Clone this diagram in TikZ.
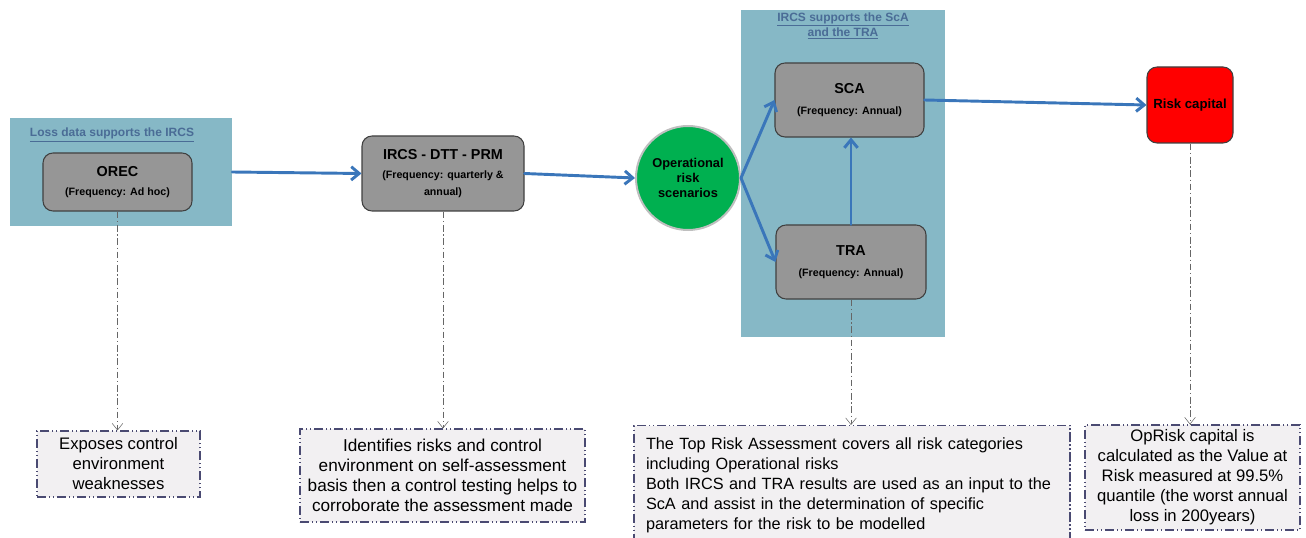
\documentclass[tikz,border=0pt]{standalone}
\usepackage{fontspec}
\setmainfont{Liberation Sans}
\usetikzlibrary{arrows.meta}

\definecolor{panelblue}{HTML}{86B8C6}
\definecolor{boxgray}{HTML}{969696}
\definecolor{arrowblue}{HTML}{3A76BA}
\definecolor{titleblue}{HTML}{4A6C96}
\definecolor{notefill}{HTML}{F2F0F2}
\definecolor{noteline}{HTML}{4A4A72}
\definecolor{orsgreen}{HTML}{00B050}
\newcommand{\freqfont}{\fontsize{8}{9.5}\selectfont}
\newcommand{\boxhead}{\fontsize{10.8}{14}\selectfont}

\begin{document}
\begin{tikzpicture}[x=0.75pt, y=-0.75pt,
	panel/.style={fill=panelblue, draw=none, inner sep=0pt},
	ptitle/.style={text=titleblue, font=\bfseries\fontsize{9}{10}\selectfont, align=center},
	stepbox/.style={draw=black!75, thick, fill=boxgray, rounded corners=7.5pt, align=center, font=\bfseries, inner sep=2pt},
	note/.style={draw=noteline, fill=notefill, thick, dash pattern=on 7pt off 2pt on 1pt off 2pt on 1pt off 2pt, font=\fontsize{12.5}{15}\selectfont, inner sep=1pt},
	flow/.style={draw=arrowblue, line width=2.2pt, line cap=round, -{Straight Barb[length=6pt, width=10pt]}},
	link/.style={draw=black!60, thin, dash pattern=on 5pt off 2pt on 1pt off 2pt, -{Straight Barb[length=5pt, width=8pt]}}]

	\useasboundingbox (0,0) rectangle (1306,538);

	\node[panel, minimum width=166.5pt, minimum height=81pt] (lpanel) at (121,172) {};
	\node[panel, minimum width=153pt, minimum height=245.25pt] (rpanel) at (843,173.5) {};
	\node[ptitle] (ltitle) at (112,135) {\underline{Loss data supports the IRCS}};
	\node[ptitle] (rtitle) at (843,26) {\underline{IRCS supports the ScA}\\\underline{and the TRA}};

	\node[stepbox, minimum width=111.75pt, minimum height=43.5pt] (orec) at (117.5,182)
		{\boxhead OREC\\[2pt]{\freqfont(Frequency: Ad hoc)}};
	\node[stepbox, minimum width=121.5pt, minimum height=56.25pt] (ircs) at (443,173.5)
		{\boxhead IRCS - DTT - PRM\\[2pt]{\freqfont(Frequency: quarterly \&}\\[1pt]{\freqfont annual)}};
	\node[circle, draw=black!25, line width=1.5pt, fill=orsgreen, minimum size=78pt, align=center,
		font=\bfseries\fontsize{9.6}{11.5}\selectfont] (ors) at (688,178) {Operational\\risk\\scenarios};
	\node[stepbox, minimum width=111.75pt, minimum height=55.5pt] (sca) at (849.5,100)
		{\boxhead SCA\\[4pt]{\freqfont(Frequency: Annual)}};
	\node[stepbox, minimum width=112.5pt, minimum height=55.5pt] (tra) at (851,262)
		{\boxhead TRA\\[4pt]{\freqfont(Frequency: Annual)}};
	\node[stepbox, fill=red, minimum width=64.5pt, minimum height=57pt, inner sep=0pt] (risk) at (1190,105)
		{\fontsize{9.9}{12}\selectfont\color{black}Risk capital};

	\node[note, minimum width=122.25pt, minimum height=49.5pt, align=center] (note1) at (118.5,464)
		{Exposes control\\environment\\weaknesses};
	\node[note, minimum width=213.75pt, minimum height=69.75pt, align=center, font=\fontsize{12.9}{15}\selectfont] (note2) at (442.5,475.5)
		{Identifies risks and control\\environment on self-assessment\\basis then a control testing helps to\\corroborate the assessment made};
	\node[note, minimum width=327pt, minimum height=90pt, text width=309pt, inner xsep=9pt, align=left, anchor=north, font=\fontsize{12.2}{15}\selectfont] (note3) at (852,425)
		{The Top Risk Assessment covers all risk categories\\including Operational risks\\Both IRCS and TRA results are used as an input to the\\ScA and assist in the determination of specific\\parameters for the risk to be modelled};
	\node[note, minimum width=161.25pt, minimum height=78.75pt, align=center] (note4) at (1192.5,477.5)
		{OpRisk capital is\\calculated as the Value at\\Risk measured at 99.5\%\\quantile (the worst annual\\loss in 200years)};

	\draw[flow] (lpanel.east) -- (ircs.west);
	\draw[flow] (ircs.east) -- (ors.west);
	\draw[flow] (ors.east) -- (sca.west);
	\draw[flow] (ors.east) -- (tra.west);
	\draw[flow] (tra.north) -- (tra.north |- sca.south);
	\draw[flow] (sca.east) -- (risk.west);

	\draw[link] (orec.south) -- (orec.south |- note1.north);
	\draw[link] (ircs.south) -- (ircs.south |- note2.north);
	\draw[link] (tra.south) -- (tra.south |- note3.north);
	\draw[link] (risk.south) -- (risk.south |- note4.north);
\end{tikzpicture}
\end{document}
